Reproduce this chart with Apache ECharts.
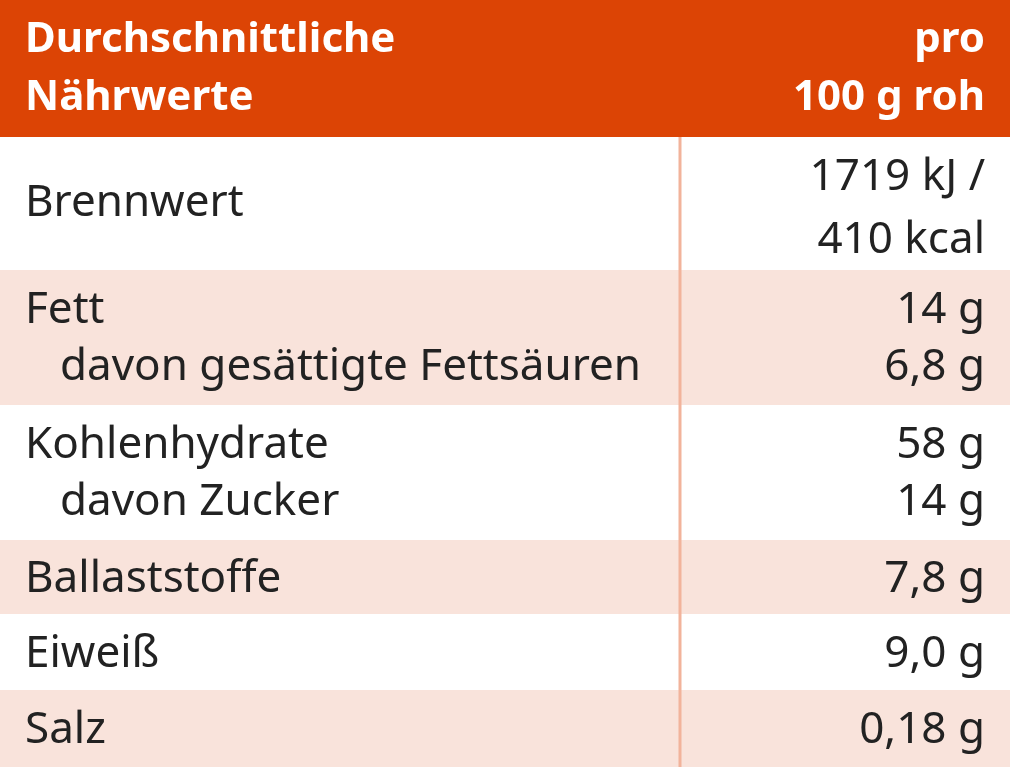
<!DOCTYPE html>
<html>
<head>
<meta charset="utf-8">
<script src="https://cdn.jsdelivr.net/npm/echarts@6/dist/echarts.min.js"></script>
<style>html,body{margin:0;padding:0;background:#fff}#chart{width:1010px;height:767px}</style>
</head>
<body>
<div id="chart"></div>
<script>
// Tabellendaten
var headerLeft = ['Durchschnittliche', 'Nährwerte'];
var headerRight = ['pro', '100 g roh'];
var nutrients = [
    ['Brennwert'],
    ['Fett', 'davon gesättigte Fettsäuren'],
    ['Kohlenhydrate', 'davon Zucker'],
    ['Ballaststoffe'],
    ['Eiweiß'],
    ['Salz']
];
var amounts = [
    ['1719 kJ /', '410 kcal'],
    ['14 g', '6,8 g'],
    ['58 g', '14 g'],
    ['7,8 g'],
    ['9,0 g'],
    ['0,18 g']
];

// Layout
var headerH = 137;
var rowH = [133, 135, 135, 74, 76, 77];
var divX = 680;
var orange = '#dc4405';
var pink = '#f9e3db';

var myChart = echarts.init(document.getElementById('chart'));

var rowTops = [];
var acc = headerH;
rowH.forEach(function (h) { rowTops.push(acc); acc += h; });

function renderRow(params, api) {
    var i = params.dataIndex;
    var top = rowTops[i], h = rowH[i];
    var p0 = api.coord([0, top]);
    var p1 = api.coord([1010, top + h]);
    var children = [{
        type: 'rect',
        shape: { x: p0[0], y: p0[1], width: p1[0] - p0[0], height: p1[1] - p0[1] },
        style: { fill: i % 2 === 1 ? pink : '#fff' }
    }];
    var names = nutrients[i];
    var vals = amounts[i];
    var font = '400 44px "Noto Sans", sans-serif';
    // Namen
    if (names.length === 1 && vals.length === 2) {
        children.push({ type: 'text', style: { x: 25, y: p0[1] + h / 2, text: names[0], font: font, fill: '#222', verticalAlign: 'middle' } });
        children.push({ type: 'text', style: { x: 985, y: p0[1] + 40, text: vals[0], font: font, fill: '#222', align: 'right', verticalAlign: 'middle' } });
        children.push({ type: 'text', style: { x: 985, y: p0[1] + 103, text: vals[1], font: font, fill: '#222', align: 'right', verticalAlign: 'middle' } });
    } else if (names.length === 2) {
        [0, 1].forEach(function (k) {
            var y = p0[1] + 40 + k * 57;
            children.push({ type: 'text', style: { x: k ? 60 : 25, y: y, text: names[k], font: font, fill: '#222', verticalAlign: 'middle' } });
            children.push({ type: 'text', style: { x: 985, y: y, text: vals[k], font: font, fill: '#222', align: 'right', verticalAlign: 'middle' } });
        });
    } else {
        children.push({ type: 'text', style: { x: 25, y: p0[1] + h / 2 + 2, text: names[0], font: font, fill: '#222', verticalAlign: 'middle' } });
        children.push({ type: 'text', style: { x: 985, y: p0[1] + h / 2 + 2, text: vals[0], font: font, fill: '#222', align: 'right', verticalAlign: 'middle' } });
    }
    return { type: 'group', children: children };
}

function renderHeader(params, api) {
    var p0 = api.coord([0, 0]);
    var p1 = api.coord([1010, headerH]);
    var font = '700 42px "Noto Sans", sans-serif';
    var children = [{
        type: 'rect',
        shape: { x: p0[0], y: p0[1], width: p1[0] - p0[0], height: p1[1] - p0[1] },
        style: { fill: orange }
    }];
    [0, 1].forEach(function (k) {
        var y = 40 + k * 58;
        children.push({ type: 'text', style: { x: 25, y: y, text: headerLeft[k], font: font, fill: '#fff', verticalAlign: 'middle' } });
        children.push({ type: 'text', style: { x: 985, y: y, text: headerRight[k], font: font, fill: '#fff', align: 'right', verticalAlign: 'middle' } });
    });
    // Trennlinie
    var d0 = api.coord([divX, headerH]);
    var d1 = api.coord([divX, 767]);
    children.push({ type: 'line', shape: { x1: d0[0], y1: d0[1], x2: d1[0], y2: d1[1] }, style: { stroke: '#f2b39b', lineWidth: 3 }, z2: 10 });
    return { type: 'group', children: children };
}

var option = {
    animation: false,
    grid: { left: 0, right: 0, top: 0, bottom: 0 },
    xAxis: { type: 'value', min: 0, max: 1010, show: false },
    yAxis: { type: 'value', min: 0, max: 767, inverse: true, show: false },
    series: [
        { type: 'custom', renderItem: renderRow, data: nutrients.map(function (n, i) { return [i]; }), z: 1 },
        { type: 'custom', renderItem: renderHeader, data: [[0]], z: 2 }
    ]
};
myChart.setOption(option);
</script>
</body>
</html>
